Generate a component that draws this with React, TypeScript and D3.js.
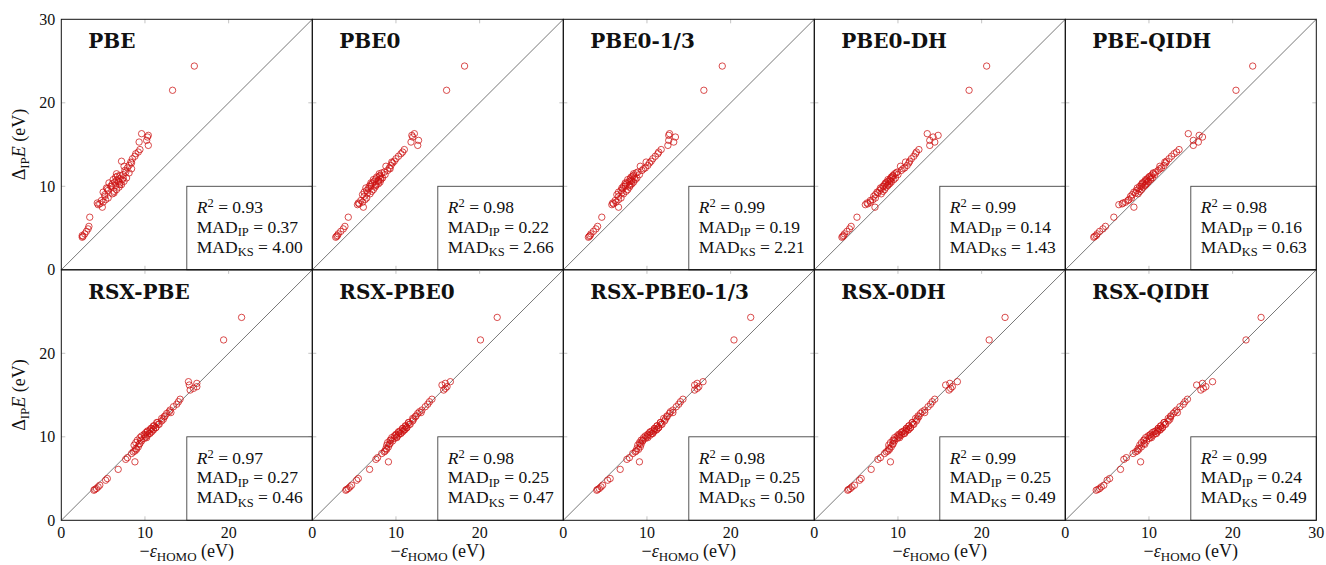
import React from "react";
import * as d3 from "d3";

// ---- data ----
const panelNames = ["PBE", "PBE0", "PBE0-1/3", "PBE0-DH", "PBE-QIDH", "RSX-PBE", "RSX-PBE0", "RSX-PBE0-1/3", "RSX-0DH", "RSX-QIDH"];
const r2Values = ["0.93", "0.98", "0.99", "0.99", "0.98", "0.97", "0.98", "0.98", "0.99", "0.99"];
const madIPValues = ["0.37", "0.22", "0.19", "0.14", "0.16", "0.27", "0.25", "0.25", "0.25", "0.24"];
const madKSValues = ["4.00", "2.66", "2.21", "1.43", "0.63", "0.46", "0.47", "0.50", "0.49", "0.49"];
const xTicks = [0, 10, 20, 30];
const yTicks = [0, 10, 20, 30];

// ΔIP E (eV), top row and bottom row
const yTopRow = [3.9, 4.0, 4.1, 4.3, 4.6, 4.9, 5.2, 6.3, 7.5, 7.8, 7.9, 8.0, 8.1, 8.3, 8.4, 8.6, 8.8, 9.0, 9.1, 9.3, 9.4, 9.5, 9.6, 9.8, 9.9, 10.0, 10.1, 10.2, 10.3, 10.4, 10.5, 10.6, 10.7, 10.8, 10.9, 11.0, 11.2, 11.4, 11.6, 11.9, 12.1, 12.2, 12.5, 12.8, 13.0, 13.3, 13.6, 13.9, 14.1, 14.4, 14.9, 15.3, 15.5, 15.9, 16.1, 16.3, 21.5, 24.4, 9.2, 9.7, 10.0, 10.2, 10.4, 10.6, 10.8, 11.0, 11.1, 11.3, 11.5, 11.7, 12.4, 12.9];
const yBottomRow = [3.6, 3.7, 3.8, 4.0, 4.2, 4.8, 5.0, 6.1, 7.0, 7.3, 7.5, 8.0, 8.2, 8.3, 8.5, 8.6, 8.8, 9.0, 9.2, 9.3, 9.5, 9.6, 9.8, 9.9, 10.0, 10.1, 10.2, 10.3, 10.4, 10.5, 10.6, 10.7, 10.8, 10.9, 11.0, 11.1, 11.3, 11.5, 11.7, 11.9, 12.1, 12.2, 12.5, 12.8, 13.0, 13.2, 13.6, 13.9, 14.2, 14.5, 15.6, 15.8, 16.0, 16.2, 16.4, 16.6, 21.6, 24.3, 9.1, 9.6, 9.9, 10.2, 10.4, 10.6, 10.8, 11.0, 11.1, 11.3, 11.5, 11.7, 12.4, 12.9];

// -ε_HOMO (eV) per functional
const xPBE = [2.5, 2.6, 2.5, 2.8, 3.0, 3.2, 3.3, 3.4, 4.9, 4.4, 4.6, 4.3, 5.0, 4.8, 5.3, 5.6, 5.2, 5.2, 6.1, 5.0, 6.3, 5.6, 6.6, 5.4, 6.9, 5.9, 6.5, 7.2, 6.1, 7.0, 6.4, 7.5, 6.6, 7.3, 6.9, 7.8, 6.7, 7.4, 8.1, 7.6, 8.4, 7.9, 8.1, 8.4, 7.2, 8.5, 8.8, 8.9, 9.2, 9.4, 10.4, 9.3, 10.2, 10.3, 10.4, 9.6, 13.3, 15.9, 6.3, 5.5, 6.0, 7.0, 5.7, 6.8, 6.2, 7.4, 6.5, 7.0, 6.6, 7.7, 7.5, 8.3];
const xPBE0 = [2.8, 2.9, 3.0, 3.1, 3.4, 3.7, 3.9, 4.3, 6.1, 5.4, 5.6, 5.5, 6.0, 5.8, 6.3, 6.5, 6.2, 6.0, 6.9, 6.2, 7.1, 6.5, 7.3, 6.4, 7.5, 6.8, 7.6, 7.0, 7.9, 7.2, 8.1, 7.4, 7.9, 8.2, 7.6, 8.4, 8.0, 8.7, 8.3, 9.0, 9.3, 9.2, 9.4, 9.6, 9.8, 10.0, 10.3, 10.6, 10.8, 11.0, 12.6, 11.8, 12.7, 12.0, 11.9, 12.2, 16.05, 18.2, 6.6, 6.7, 7.0, 7.6, 7.0, 7.9, 7.3, 8.2, 7.7, 8.1, 8.0, 8.6, 8.8, 9.5];
const xPBE0_13 = [3.0, 3.1, 3.2, 3.3, 3.6, 3.9, 4.1, 4.6, 6.6, 5.8, 6.0, 5.9, 6.3, 6.2, 6.6, 6.9, 6.6, 6.4, 7.2, 6.6, 7.5, 6.9, 7.7, 7.0, 7.9, 7.2, 8.0, 7.4, 8.2, 7.6, 8.4, 7.9, 8.1, 8.6, 8.0, 8.8, 8.3, 9.1, 8.7, 9.4, 9.6, 9.8, 10.1, 10.3, 10.5, 10.7, 11.0, 11.3, 11.4, 11.7, 12.5, 13.2, 12.6, 13.4, 12.6, 12.7, 16.8, 19.0, 7.0, 7.1, 7.4, 7.9, 7.4, 8.2, 7.7, 8.5, 8.1, 8.4, 8.4, 8.9, 9.2, 9.9];
const xPBE0DH = [3.3, 3.4, 3.5, 3.6, 3.9, 4.2, 4.4, 5.1, 7.25, 6.1, 6.4, 6.3, 6.7, 6.7, 7.0, 7.3, 7.1, 7.3, 8.0, 7.5, 8.2, 7.8, 8.4, 7.9, 8.6, 8.2, 8.8, 8.4, 9.0, 8.6, 9.2, 8.8, 9.0, 9.5, 9.1, 9.7, 9.4, 10.0, 9.8, 10.4, 10.6, 10.8, 11.1, 11.3, 11.4, 11.6, 11.9, 12.1, 12.2, 12.5, 13.8, 14.4, 13.8, 14.2, 14.8, 13.5, 18.5, 20.6, 7.6, 8.0, 8.3, 8.8, 8.5, 9.1, 8.8, 9.3, 9.2, 9.4, 9.6, 9.9, 10.3, 10.9];
const xPBEQIDH = [3.4, 3.5, 3.7, 3.8, 4.1, 4.5, 4.8, 5.8, 8.2, 6.4, 6.8, 6.9, 7.2, 7.5, 7.6, 7.9, 7.8, 8.0, 8.7, 8.2, 8.9, 8.5, 9.1, 8.6, 9.3, 8.9, 9.5, 9.1, 9.7, 9.2, 9.9, 9.5, 9.7, 10.2, 9.8, 10.4, 10.1, 10.7, 10.5, 11.1, 11.3, 11.5, 11.8, 12.0, 12.1, 12.4, 12.7, 13.0, 13.3, 13.6, 15.3, 15.9, 15.3, 16.4, 16.0, 14.7, 20.4, 22.4, 8.4, 8.8, 9.1, 9.6, 9.3, 9.9, 9.6, 10.2, 10.0, 10.3, 10.5, 10.8, 11.3, 11.9];
const xRSXPBE = [3.9, 4.0, 4.2, 4.4, 4.6, 5.3, 5.5, 6.8, 8.8, 7.7, 7.9, 8.4, 8.6, 8.8, 9.0, 8.9, 9.2, 8.7, 9.4, 8.9, 9.6, 9.1, 9.9, 9.4, 10.1, 9.6, 10.3, 9.9, 10.5, 10.1, 10.8, 10.3, 10.6, 11.0, 10.7, 11.3, 11.0, 11.6, 11.4, 12.0, 12.2, 12.0, 12.4, 12.6, 12.9, 13.0, 13.4, 13.8, 14.0, 14.2, 15.4, 15.8, 16.2, 15.3, 16.2, 15.2, 19.4, 21.55, 9.3, 9.5, 10.2, 10.0, 10.6, 10.3, 11.0, 10.8, 11.3, 11.1, 11.7, 11.5, 12.3, 13.1];
const xRSXPBE0 = [4.0, 4.1, 4.3, 4.5, 4.7, 5.3, 5.5, 6.85, 9.1, 7.6, 7.8, 8.3, 8.6, 8.7, 8.9, 8.8, 9.1, 8.9, 9.3, 9.0, 9.6, 9.3, 9.8, 9.5, 10.1, 9.8, 10.3, 10.0, 10.5, 10.3, 10.8, 10.5, 10.9, 11.1, 10.8, 11.3, 11.2, 11.6, 11.5, 12.0, 12.1, 12.0, 12.4, 12.6, 12.8, 13.1, 13.5, 13.8, 14.0, 14.3, 15.7, 15.9, 16.1, 15.5, 15.9, 16.5, 20.1, 22.1, 9.2, 9.4, 10.1, 10.0, 10.6, 10.3, 11.0, 10.8, 11.3, 11.1, 11.7, 11.5, 12.3, 13.0];
const xRSXPBE0_13 = [4.0, 4.1, 4.3, 4.5, 4.7, 5.3, 5.6, 6.8, 9.1, 7.6, 7.9, 8.3, 8.6, 8.7, 9.0, 8.8, 9.2, 8.9, 9.2, 9.1, 9.5, 9.3, 9.8, 9.6, 10.0, 9.8, 10.4, 10.1, 10.6, 10.3, 10.8, 10.6, 10.9, 11.2, 10.9, 11.4, 11.2, 11.7, 11.6, 12.1, 12.2, 12.0, 12.4, 12.7, 12.8, 13.1, 13.5, 13.8, 14.0, 14.3, 15.7, 16.0, 16.2, 15.7, 16.0, 16.7, 20.4, 22.4, 9.3, 9.5, 10.1, 10.1, 10.7, 10.4, 11.1, 10.9, 11.4, 11.2, 11.8, 11.6, 12.4, 13.1];
const xRSX0DH = [4.0, 4.1, 4.3, 4.5, 4.8, 5.4, 5.6, 6.8, 9.1, 7.6, 7.9, 8.4, 8.6, 8.8, 9.0, 8.9, 9.2, 8.9, 9.4, 9.1, 9.6, 9.4, 9.9, 9.6, 10.1, 9.9, 10.4, 10.1, 10.7, 10.4, 10.9, 10.7, 11.0, 11.3, 11.0, 11.5, 11.3, 11.8, 11.7, 12.2, 12.3, 12.1, 12.4, 12.7, 12.9, 13.2, 13.6, 13.9, 14.1, 14.4, 16.1, 16.3, 16.5, 15.7, 16.2, 17.1, 20.9, 22.8, 9.4, 9.5, 10.2, 10.2, 10.8, 10.5, 11.2, 11.0, 11.5, 11.3, 11.9, 11.7, 12.5, 13.2];
const xRSXQIDH = [3.7, 3.9, 4.1, 4.3, 4.6, 5.0, 5.3, 6.6, 9.0, 7.0, 7.3, 8.1, 8.4, 8.6, 8.8, 8.7, 9.1, 8.9, 9.4, 9.1, 9.7, 9.4, 10.0, 9.6, 10.2, 9.9, 10.5, 10.2, 10.8, 10.4, 11.0, 10.8, 11.1, 11.4, 11.1, 11.6, 11.4, 11.9, 11.8, 12.3, 12.5, 12.3, 12.6, 12.9, 13.1, 13.3, 13.7, 14.1, 14.3, 14.6, 16.2, 16.5, 16.8, 15.7, 16.4, 17.6, 21.6, 23.4, 9.5, 9.4, 10.3, 10.1, 10.9, 10.6, 11.3, 11.1, 11.6, 11.4, 12.0, 11.8, 12.6, 13.4];

const panelX = [xPBE, xPBE0, xPBE0_13, xPBE0DH, xPBEQIDH, xRSXPBE, xRSXPBE0, xRSXPBE0_13, xRSX0DH, xRSXQIDH];
const rowY = [yTopRow, yBottomRow];

// ---- layout ----
const WIDTH = 1326;
const HEIGHT = 565;
const LEFT = 61.3;
const TOP = 19.3;
const PW = 251;
const PH = 250.5;
const SERIF = '"Liberation Serif", "Times New Roman", Tinos, "DejaVu Serif", "Noto Serif", serif';
const BOLD = '"DejaVu Serif", "Liberation Serif", "Times New Roman", serif';
const RED = "#cc1111";

function Panel({ i }: { i: number }) {
  const col = i % 5;
  const row = Math.floor(i / 5);
  const x0 = LEFT + col * PW;
  const y0 = TOP + row * PH;
  const xs = d3.scaleLinear().domain([0, 30]).range([x0, x0 + PW]);
  const ys = d3.scaleLinear().domain([0, 30]).range([y0 + PH, y0]);
  const px = panelX[i];
  const py = rowY[row];
  const inner = [10, 20];
  const tl = 4;
  const serif = { fontFamily: SERIF };
  return (
    <g>
      {inner.map((t) => (
        <g key={"t" + t} stroke="#b5b5b5" strokeWidth={0.8}>
          <line x1={xs(t)} x2={xs(t)} y1={ys(0)} y2={ys(0) - tl} />
          <line x1={xs(t)} x2={xs(t)} y1={ys(30)} y2={ys(30) + tl} />
          <line x1={xs(0)} x2={xs(0) + tl} y1={ys(t)} y2={ys(t)} />
          <line x1={xs(30)} x2={xs(30) - tl} y1={ys(t)} y2={ys(t)} />
        </g>
      ))}
      <line x1={xs(0)} y1={ys(0)} x2={xs(30)} y2={ys(30)} stroke="#555" strokeWidth={0.8} />
      {px.map((v, k) => (
        <circle key={k} cx={xs(v)} cy={ys(py[k])} r={3.2} fill="none" stroke={RED} strokeWidth={0.75} />
      ))}
      <rect x={xs(15)} y={ys(10)} width={xs(30) - xs(15)} height={ys(0) - ys(10)} fill="white" stroke="#444" strokeWidth={0.9} />
      <g style={serif} fontSize={17.5} fill="#111">
        <text x={xs(15) + 10} y={ys(10) + 27}>
          <tspan fontStyle="italic">R</tspan>
          <tspan dy={-6} fontSize={12.5}>2</tspan>
          <tspan dy={6}>{" = " + r2Values[i]}</tspan>
        </text>
        <text x={xs(15) + 10} y={ys(10) + 46.5}>
          MAD
          <tspan dy={3.5} fontSize={12.5}>IP</tspan>
          <tspan dy={-3.5}>{"  = " + madIPValues[i]}</tspan>
        </text>
        <text x={xs(15) + 10} y={ys(10) + 66.5}>
          MAD
          <tspan dy={3.5} fontSize={12.5}>KS</tspan>
          <tspan dy={-3.5}>{" = " + madKSValues[i]}</tspan>
        </text>
      </g>
      <text x={x0 + 27} y={y0 + 29} style={{ fontFamily: BOLD }} fontWeight="bold" fontSize={20} fill="#111">
        {panelNames[i]}
      </text>
      <rect x={x0} y={y0} width={PW} height={PH} fill="none" stroke="#111" strokeWidth={1} />
      {col === 0 &&
        yTicks
          .filter((t) => row === 0 || t < 30)
          .map((t) => (
            <text key={"yl" + t} x={x0 - 6} y={ys(t)} dy="0.35em" textAnchor="end" style={serif} fontSize={16} fill="#111">
              {t}
            </text>
          ))}
      {row === 1 &&
        xTicks
          .filter((t) => col === 4 || t < 30)
          .map((t) => (
            <text key={"xl" + t} x={xs(t)} y={ys(0) + 18} textAnchor="middle" style={serif} fontSize={16} fill="#111">
              {t}
            </text>
          ))}
      {row === 1 && (
        <text x={xs(15)} y={557} textAnchor="middle" style={serif} fontSize={18} fill="#111">
          −<tspan fontStyle="italic">ε</tspan>
          <tspan dy={3.5} fontSize={13}>HOMO</tspan>
          <tspan dy={-3.5}> (eV)</tspan>
        </text>
      )}
      {col === 0 && (
        <text transform={`translate(25,${ys(15)}) rotate(-90)`} textAnchor="middle" style={serif} fontSize={18} fill="#111">
          Δ<tspan dy={3.5} fontSize={13}>IP</tspan>
          <tspan dy={-3.5} fontStyle="italic">E</tspan> (eV)
        </text>
      )}
    </g>
  );
}

export default function App() {
  return (
    <svg width={WIDTH} height={HEIGHT} style={{ position: "absolute", left: 0, top: 0, background: "white" }}>
      <rect width={WIDTH} height={HEIGHT} fill="white" />
      {panelNames.map((_, i) => (
        <Panel key={i} i={i} />
      ))}
    </svg>
  );
}
